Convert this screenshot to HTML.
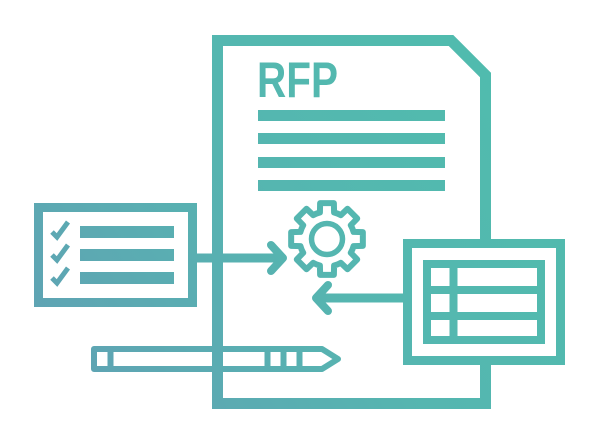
<!DOCTYPE html>
<html><head><meta charset="utf-8"><style>
html,body{margin:0;padding:0;background:#fff;width:600px;height:441px;overflow:hidden}
svg{display:block}
</style></head><body>
<svg width="600" height="441" viewBox="0 0 600 441" xmlns="http://www.w3.org/2000/svg">
<defs>
<linearGradient id="g" gradientUnits="userSpaceOnUse" x1="40" y1="410" x2="560" y2="40">
<stop offset="0" stop-color="#61a0b4"/><stop offset="0.5" stop-color="#55b6b0"/><stop offset="1" stop-color="#4fbdad"/>
</linearGradient>
</defs>
<g fill="none" stroke="url(#g)" stroke-width="11">
<path d="M217.5 239 V40.5 H451 L485.5 75 V239 M485.5 365 V403.5 H217.5 V239" stroke-linejoin="miter"/>
</g>
<text x="257" y="97" font-family="Liberation Sans, sans-serif" font-weight="bold" font-size="50" textLength="81" lengthAdjust="spacingAndGlyphs" fill="url(#g)">RFP</text>
<g fill="url(#g)">
<rect x="258" y="110" width="187" height="11"/>
<rect x="258" y="133" width="187" height="11"/>
<rect x="258" y="157" width="187" height="11"/>
<rect x="258" y="180" width="187" height="11"/>
<rect x="80" y="226" width="94" height="12"/>
<rect x="80" y="249" width="94" height="12"/>
<rect x="80" y="272" width="94" height="12"/>
</g>
<g fill="none" stroke="url(#g)">
<rect x="38.5" y="207.5" width="154" height="95" stroke-width="9"/>
<path d="M52 232 l5 5 l11 -15 M52 255 l5 5 l11 -15 M52 278 l5 5 l11 -15" stroke-width="5"/>
<path d="M197 258 H282" stroke-width="9"/>
<path d="M271 245 L283 258 L271 271" stroke-width="8" stroke-linecap="round" stroke-linejoin="round"/>
<path d="M403 298 H320" stroke-width="9"/>
<path d="M328 285 L316 298 L328 311" stroke-width="8" stroke-linecap="round" stroke-linejoin="round"/>
<rect x="407.5" y="243.5" width="153" height="117" stroke-width="9"/>
<rect x="427" y="264" width="114" height="76" stroke-width="8"/>
<path d="M427 290 H541 M427 316 H541 M453.5 264 V340" stroke-width="8"/>
<circle cx="327" cy="239" r="15.5" stroke-width="5.5"/>
<path id="gear" stroke-width="6" stroke-linejoin="round"/>
<path d="M94 349 H322 L338 359 L322 369 H94 Z" stroke-width="6" stroke-linejoin="round"/>
<path d="M110.5 350 V368 M267.5 350 V368 M283.5 350 V368 M299.5 350 V368" stroke-width="6"/>
</g>
</svg>
<script>
(function(){
var cx=327,cy=239,R=36.5,r=27.5,n=8,d="";
function p(a,rad){return (cx+rad*Math.cos(a)).toFixed(2)+" "+(cy+rad*Math.sin(a)).toFixed(2);}
for(var i=0;i<n;i++){
 var a=i*2*Math.PI/n - Math.PI/2;
 var tw=0.19, rw=0.26;
 d+=(i==0?"M":"L")+p(a-rw,r)+" L"+p(a-tw,R)+" L"+p(a+tw,R)+" L"+p(a+rw,r)+" ";
 d+="A"+r+" "+r+" 0 0 1 "+p(a+2*Math.PI/n-rw,r)+" ";
}
d+="Z";
document.getElementById("gear").setAttribute("d",d);
})();
</script>
</body></html>
